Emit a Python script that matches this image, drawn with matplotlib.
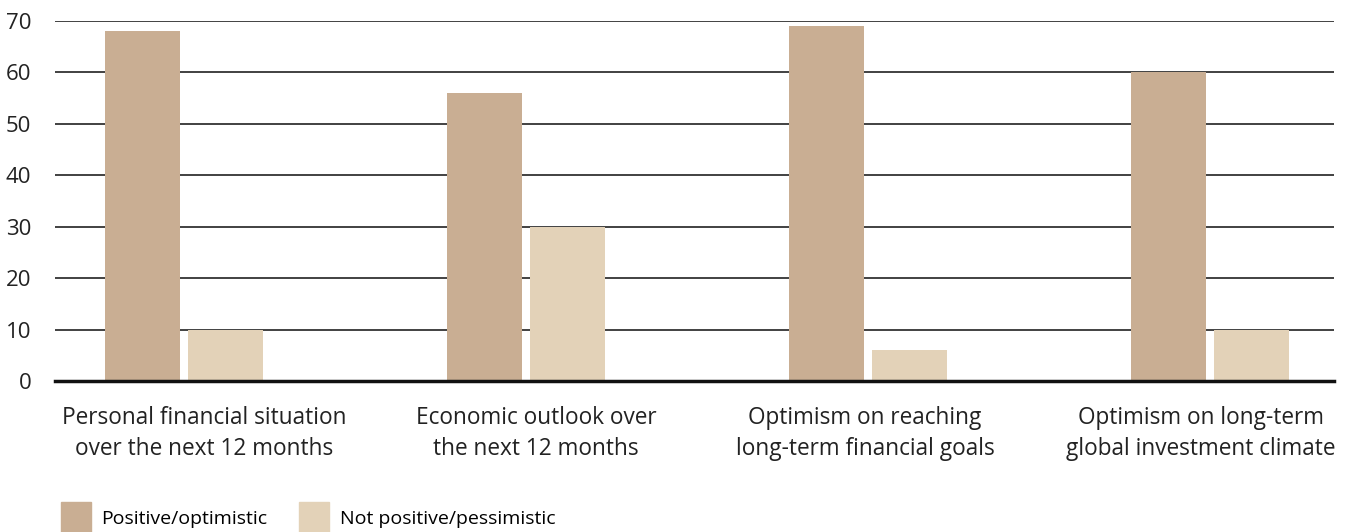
import matplotlib
matplotlib.use("Agg")
import matplotlib.pyplot as plt
import matplotlib.patches as mpatches
import matplotlib.transforms as mtransforms
import numpy as np

categories = ["Personal financial situation\nover the next 12 months",
              "Economic outlook over\nthe next 12 months",
              "Optimism on reaching\nlong-term financial goals",
              "Optimism on long-term\nglobal investment climate"]
positive = [68, 56, 69, 60]
negative = [10, 30, 6, 10]
series_names = ["Positive/optimistic", "Not positive/pessimistic"]
yticks = [0, 10, 20, 30, 40, 50, 60, 70]

c_pos = "#C9AE93"
c_neg = "#E3D2B8"

plt.rcParams['font.family'] = ['Open Sans', 'DejaVu Sans']

fig = plt.figure(figsize=(13.51, 5.32), dpi=100)
ax = fig.add_axes([55/1351, 1-381/532, (1334-55)/1351, (381-21)/532])

x = np.arange(len(categories))
w = 0.22
gap = 0.024
ax.bar(x - (w+gap)/2, positive, w, color=c_pos, zorder=3)
ax.bar(x + (w+gap)/2, negative, w, color=c_neg, zorder=3)

ax.set_xlim(-0.377, 3.363)
ax.set_ylim(0, 70)
ax.set_yticks(yticks)
ax.set_yticklabels([str(v) for v in yticks], fontsize=16, color="#222222")
ax.yaxis.grid(True, color="#333333", linewidth=1.3, zorder=0)
ax.set_axisbelow(True)
ax.set_xticks(x)
ax.set_xticklabels(categories, fontsize=16.3, color="#222222", linespacing=1.4)
ax.tick_params(axis='both', length=0)
ax.tick_params(axis='x', pad=18)
ax.tick_params(axis='y', pad=17)
for s in ['top', 'right', 'left']:
    ax.spines[s].set_visible(False)
ax.spines['bottom'].set_linewidth(2.5)
ax.spines['bottom'].set_color("#111111")
ax.spines['bottom'].set_zorder(5)

offsets_px = [20, 10, -3, -9]
for lbl, off in zip(ax.get_xticklabels(), offsets_px):
    lbl.set_transform(lbl.get_transform() + mtransforms.ScaledTranslation(off/100, 0, fig.dpi_scale_trans))

handles = [mpatches.Patch(color=c_pos, label=series_names[0]),
           mpatches.Patch(color=c_neg, label=series_names[1])]
fig.legend(handles=handles, loc='lower left', bbox_to_anchor=(0.032, -0.035),
           ncol=2, frameon=False, fontsize=14, handlelength=1.55, handleheight=2.1,
           handletextpad=0.55, columnspacing=1.6)

fig.savefig("out.png", dpi=100)
